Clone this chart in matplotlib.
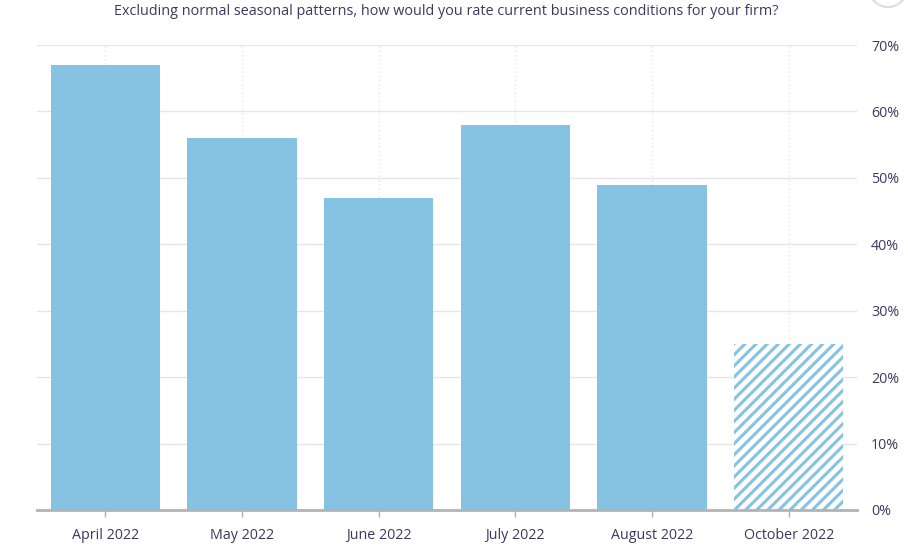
import matplotlib.pyplot as plt
import numpy as np
from matplotlib.patches import Ellipse

plt.rcParams["font.family"] = ["Open Sans", "DejaVu Sans"]
plt.rcParams["hatch.linewidth"] = 2.2
plt.rcParams["hatch.color"] = "#86c3e3"

# ===============================
months = ["April 2022", "May 2022", "June 2022", "July 2022", "August 2022", "October 2022"]
share = [67, 56, 47, 58, 49, 25]
projected = [False, False, False, False, False, True]
yticks = [0, 10, 20, 30, 40, 50, 60, 70]

bar_color = "#86c3e3"
text_color = "#3b3960"

# ===============================
fig = plt.figure(figsize=(9.08, 5.53), dpi=100)
ax = fig.add_axes([0.0408, 0.0778, 0.9031, 0.8408])

x = np.arange(len(months))
for i in range(len(months)):
    if projected[i]:
        ax.bar(x[i], share[i], width=0.8, color="white", edgecolor=bar_color,
               hatch="///", linewidth=0, zorder=3)
    else:
        ax.bar(x[i], share[i], width=0.8, color=bar_color, linewidth=0, zorder=3)

ax.set_xlim(-0.5, len(months) - 0.5)
ax.set_ylim(0, 70)

ax.set_xticks(x)
ax.set_xticklabels(months, fontsize=10.3, color=text_color)
ax.set_yticks(yticks)
ax.set_yticklabels([f"{v}%" for v in yticks], fontsize=10.3, color=text_color)
ax.yaxis.tick_right()
ax.tick_params(axis="y", length=0, pad=10)
ax.tick_params(axis="x", length=5, width=1, color="#b0b0b0", pad=8)

ax.grid(axis="y", color="#e6e6e6", linewidth=1, zorder=0)
ax.grid(axis="x", color="#e6e6e6", linewidth=1, linestyle=(0, (1, 2)), zorder=0)
ax.set_axisbelow(True)

for s in ["top", "left", "right"]:
    ax.spines[s].set_visible(False)
ax.spines["bottom"].set_color("#b3b3b3")
ax.spines["bottom"].set_linewidth(2)
ax.spines["bottom"].set_zorder(4)

fig.text(0.492, 0.980, "Excluding normal seasonal patterns, how would you rate current business conditions for your firm?",
         ha="center", va="center", fontsize=10.4, color=text_color)

# corner button, partly cut off
fig.patches.append(Ellipse((888 / 908, 1 + 12 / 553), 38 / 908, 38 / 553, transform=fig.transFigure,
                           facecolor="white", edgecolor="#dcdcdc", linewidth=1.5))

fig.savefig("out.png", dpi=100)
